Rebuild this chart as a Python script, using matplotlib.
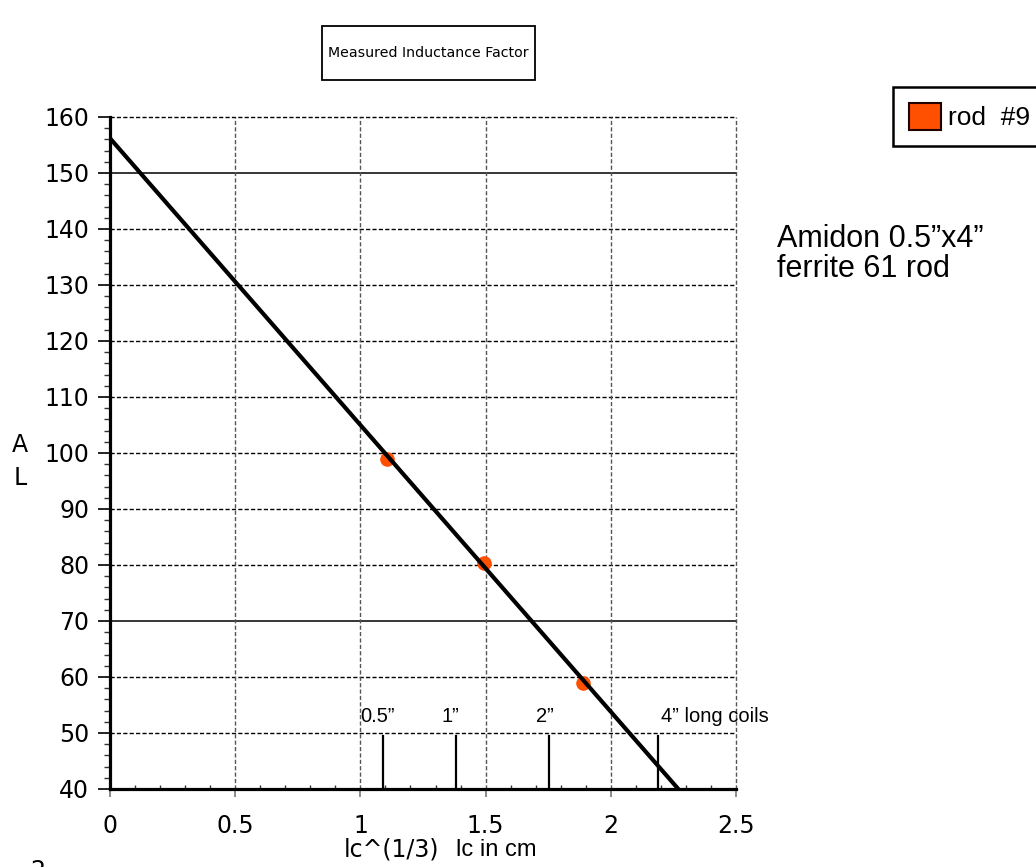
import matplotlib
matplotlib.use("Agg")
import matplotlib.pyplot as plt
from matplotlib.patches import Patch, Rectangle
from matplotlib.ticker import MultipleLocator

# ---- data ----
x_meas = [1.107, 1.493, 1.887]          # lc^(1/3)
al_meas = [98.9, 80.3, 58.9]           # A_L measured
fit_x = [0.0, 2.27]                     # fit line span
fit_intercept = 156.2
fit_slope = -51.2
coil_x = [1.09, 1.38, 1.755, 2.19]      # coil length markers
coil_labels = ['0.5\u201d', '1\u201d', '2\u201d', '4\u201d long coils']
coil_top = 49.5
x_ticks = [0, 0.5, 1, 1.5, 2, 2.5]
x_tick_labels = ['0', '0.5', '1', '1.5', '2', '2.5']
y_ticks = list(range(40, 161, 10))
solid_y = [70, 150]
series_name = 'rod  #9'
orange = '#FF4F00'

W, H = 1036, 867
fig = plt.figure(figsize=(W / 100, H / 100), dpi=100)
ax = fig.add_axes([110 / W, (H - 789) / H, 626 / W, 672 / H])
ax.set_xlim(0, 2.5)
ax.set_ylim(40, 160)

# grid
for v in y_ticks[1:]:
    if v in solid_y:
        ax.axhline(v, color='black', lw=1.1, ls='-', zorder=0.5, clip_on=False)
    else:
        ax.axhline(v, color='black', lw=1.0, ls=(0, (3, 1.6)), zorder=0.5, clip_on=False)
for v in x_ticks[1:]:
    ax.axvline(v, color='#555555', lw=1.0, ls=(0, (3, 1.6)), zorder=0.5, clip_on=False)

# spines
for s in ['top', 'right']:
    ax.spines[s].set_visible(False)
for s in ['left', 'bottom']:
    ax.spines[s].set_linewidth(2.3)
    ax.spines[s].set_zorder(5)

# ticks
ax.set_xticks(x_ticks)
ax.set_xticklabels(x_tick_labels)
ax.set_yticks(y_ticks)
ax.xaxis.set_minor_locator(MultipleLocator(0.1))
ax.yaxis.set_minor_locator(MultipleLocator(2))
ax.tick_params(axis='y', which='major', direction='out', length=8.5, width=1.2,
               labelsize=17, pad=6.5, colors='black')
ax.tick_params(axis='y', which='minor', direction='out', length=4.5, width=1.0, color='#333333')
ax.tick_params(axis='x', which='major', direction='out', length=6, width=1.2,
               labelsize=17, pad=12, color='#777777', labelcolor='black')
ax.tick_params(axis='x', which='minor', direction='in', length=3, width=1.0, color='#333333')
ax.tick_params(top=False, right=False)

# data points and fit line
ax.plot(x_meas, al_meas, 'o', color=orange, markersize=10.5, markeredgewidth=0, zorder=3)
fit_y = [fit_intercept + fit_slope * xv for xv in fit_x]
ax.plot(fit_x, fit_y, color='black', lw=3.0, zorder=4, solid_capstyle='butt')

# coil length markers
for xv in coil_x:
    ax.plot([xv, xv], [40, coil_top], color='black', lw=1.6, zorder=4)
for xv, lab in zip(coil_x, coil_labels):
    if lab.startswith('4'):
        ax.text(xv + 0.01, 51.2, lab, ha='left', va='bottom', fontsize=14.5,
                family='Liberation Sans', zorder=6)
    else:
        ax.text(xv - 0.02, 51.2, lab, ha='center', va='bottom', fontsize=14.5,
                family='Liberation Sans', zorder=6)

# axis labels
fig.text(20 / W, 1 - 445 / H, 'A', ha='center', va='center', fontsize=17)
fig.text(20 / W, 1 - 478 / H, 'L', ha='center', va='center', fontsize=17)
fig.text(344 / W, 1 - 850 / H, 'lc^(1/3)', ha='left', va='center', fontsize=17)
fig.text(456 / W, 1 - 850 / H, 'lc in cm', ha='left', va='center', fontsize=17,
         family='Liberation Sans')
fig.text(38 / W, 1 - 859 / H, '2', ha='center', va='top', fontsize=17)

# title in box
box_l, box_r, box_t, box_b = 322, 535, 26, 80
fig.patches.append(Rectangle((box_l / W, 1 - box_b / H), (box_r - box_l) / W,
                             (box_b - box_t) / H, transform=fig.transFigure,
                             facecolor='white', edgecolor='black', lw=1.3))
fig.text((box_l + box_r) / 2 / W, 1 - (box_t + box_b) / 2 / H, 'Measured Inductance Factor',
         ha='center', va='center', fontsize=10.2)

# side annotation
fig.text(777 / W, 1 - 254 / H, 'Amidon 0.5\u201dx4\u201d\nferrite 61 rod', ha='left',
         va='center', fontsize=22, family='Liberation Sans', linespacing=1.0)

# legend
handle = Patch(facecolor=orange, edgecolor='#220000', linewidth=1.5, label=series_name)
leg = fig.legend(handles=[handle], loc='upper left',
                 bbox_to_anchor=(893 / W, 1 - 87 / H),
                 prop={'family': 'Liberation Sans', 'size': 19},
                 handlelength=1.2, handleheight=1.2, handletextpad=0.3,
                 borderpad=0.6, borderaxespad=0, fancybox=False, framealpha=1,
                 edgecolor='black')
leg.get_frame().set_linewidth(1.8)

fig.savefig('out.png', dpi=100)
